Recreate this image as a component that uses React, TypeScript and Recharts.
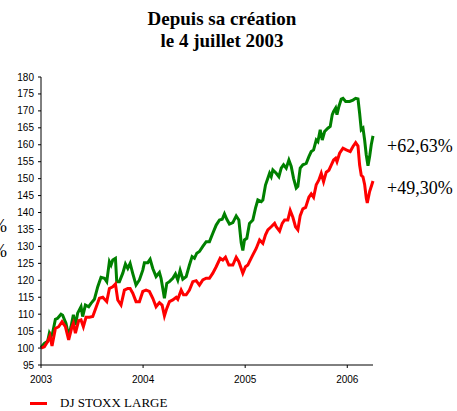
import { LineChart, Line, XAxis, YAxis, Legend } from 'recharts';

// time in years since the start (4 July 2003)
const greenT = [
  0, 0.033, 0.065, 0.082, 0.098, 0.114, 0.141, 0.163, 0.196, 0.212, 0.245, 0.271, 0.294, 0.317,
  0.337, 0.359, 0.392, 0.408, 0.435, 0.467, 0.49, 0.523, 0.556, 0.588, 0.621, 0.644, 0.67, 0.686,
  0.703, 0.729, 0.742, 0.768, 0.801, 0.827, 0.85, 0.873, 0.899, 0.931, 0.964, 0.997, 1.013, 1.046,
  1.069, 1.095, 1.127, 1.16, 1.176, 1.209, 1.232, 1.258, 1.291, 1.317, 1.34, 1.363, 1.389, 1.422,
  1.454, 1.48, 1.503, 1.526, 1.552, 1.585, 1.618, 1.65, 1.683, 1.716, 1.748, 1.775, 1.797, 1.82,
  1.846, 1.879, 1.912, 1.938, 1.961, 1.977, 1.993, 2.016, 2.042, 2.075, 2.101, 2.124, 2.157, 2.173,
  2.199, 2.222, 2.239, 2.255, 2.271, 2.304, 2.33, 2.353, 2.376, 2.402, 2.428, 2.451, 2.474, 2.5,
  2.516, 2.539, 2.565, 2.598, 2.624, 2.647, 2.67, 2.696, 2.712, 2.735, 2.755, 2.778, 2.81, 2.833,
  2.853, 2.866, 2.886, 2.899, 2.918, 2.941, 2.958, 2.984, 3.023, 3.056, 3.082, 3.105, 3.121, 3.137,
  3.154, 3.17, 3.186, 3.203, 3.219, 3.235, 3.252,
];
const greenValues = [
  100.2, 101.4, 102, 104.4, 103.4, 104.5, 108.5, 108.8, 110, 109.7, 107.3, 103.4, 106.3, 109.8,
  106.8, 110.3, 112.2, 109.3, 112.7, 112.2, 113.2, 114.4, 118.1, 120.9, 120.6, 119.6, 125.5, 124.5,
  126, 126.5, 119.6, 119.6, 122.1, 124.8, 123.5, 125, 122, 118.6, 120.1, 123, 125.2, 125.2,
  126.2, 123.5, 121.1, 122.3, 120.6, 114.7, 119.1, 119.6, 120.6, 121.9, 120.1, 122.9, 120.3, 121.1,
  124.5, 127, 126.5, 128, 128.5, 130, 131.4, 131.4, 133.9, 136.3, 137.8, 138, 139.6, 138,
  136.6, 137, 139, 137.8, 131.1, 128.8, 131.9, 132.4, 136.8, 137.8, 141.3, 143.7, 143.2, 143.7,
  148.1, 150.1, 151.6, 150.6, 152.6, 151.6, 150.6, 153.1, 154.1, 153.1, 155.5, 153.6, 150.1, 147.2,
  147.7, 153.1, 154.1, 154.5, 156.5, 158, 158.5, 161.4, 160.9, 164.4, 161.4, 163.9, 164.9, 165.4,
  168.9, 169.8, 170.8, 168.9, 171.3, 173.5, 173.7, 172.8, 172.8, 173.2, 173.7, 173.5, 169.3, 164.4,
  164.9, 161.4, 157, 153.8, 156.5, 160, 162.63,
];

const redT = [
  0, 0.033, 0.065, 0.088, 0.108, 0.141, 0.173, 0.206, 0.239, 0.271, 0.304, 0.317, 0.337, 0.369,
  0.392, 0.415, 0.441, 0.474, 0.507, 0.539, 0.572, 0.605, 0.644, 0.67, 0.703, 0.729, 0.752, 0.784,
  0.817, 0.85, 0.873, 0.899, 0.931, 0.964, 0.997, 1.029, 1.062, 1.095, 1.127, 1.16, 1.186, 1.209,
  1.232, 1.258, 1.291, 1.324, 1.34, 1.373, 1.396, 1.422, 1.454, 1.487, 1.52, 1.552, 1.585, 1.618,
  1.65, 1.683, 1.716, 1.755, 1.781, 1.807, 1.84, 1.879, 1.912, 1.938, 1.977, 2.003, 2.026, 2.042,
  2.075, 2.108, 2.141, 2.173, 2.199, 2.222, 2.255, 2.288, 2.304, 2.337, 2.363, 2.386, 2.418, 2.441,
  2.467, 2.493, 2.516, 2.539, 2.565, 2.592, 2.624, 2.647, 2.67, 2.696, 2.722, 2.745, 2.768, 2.794,
  2.82, 2.843, 2.866, 2.886, 2.899, 2.925, 2.958, 2.99, 3.029, 3.056, 3.082, 3.105, 3.121, 3.137,
  3.154, 3.17, 3.186, 3.196, 3.219, 3.235, 3.252,
];
const redValues = [
  100, 100.4, 101.9, 103.6, 100.6, 105.8, 106.3, 107.8, 106.3, 102.4, 106.3, 107.3, 104.4, 108.1,
  108.3, 106.3, 109.1, 109.1, 109.3, 112, 114.7, 115, 113.7, 117.6, 118.1, 118.9, 114.2, 112.7,
  117.1, 117.6, 117.6, 116.2, 113.7, 113.7, 116.7, 117.1, 116.7, 114.7, 112.2, 113.4, 112.7, 109.5,
  111.7, 113.7, 114.2, 115, 114.4, 117.1, 115.7, 115.7, 117.1, 119.6, 119.9, 118.6, 120.1, 120.6,
  120.6, 122.1, 124, 126.5, 126, 126.8, 124.5, 124.5, 126.8, 125.5, 122.1, 124, 124.5, 125.5,
  127.5, 129.4, 131.9, 130.9, 133.4, 134.9, 135.8, 136.8, 135.8, 134.5, 136.8, 137.8, 137.8, 140.6,
  138.6, 135.8, 134.9, 139.1, 141.1, 141.5, 144.5, 145.5, 144.5, 148.2, 149.6, 151.6, 149.1, 151.9,
  152.5, 154, 155.5, 156, 155, 157.5, 159, 158.5, 158, 159.5, 160.6, 159.6, 154, 151,
  150.5, 148.3, 144.3, 142.8, 146.2, 147.7, 149.3,
];

const yearTicks = [0, 1, 2, 3];
const yearLabels = ['2003', '2004', '2005', '2006'];
const yTicks = [95, 100, 105, 110, 115, 120, 125, 130, 135, 140, 145, 150, 155, 160, 165, 170, 175, 180];

const greenData = greenT.map((t, i) => ({ t, v: greenValues[i] }));
const redData = redT.map((t, i) => ({ t, v: redValues[i] }));

const tickStyle = { fontFamily: '"Liberation Sans", Arial, sans-serif', fontSize: 10, fill: '#000' };
const serif = '"Liberation Serif", "Times New Roman", serif';

function LegendBox() {
  return (
    <div style={{ display: 'flex', alignItems: 'center', fontFamily: serif, fontSize: 13, color: '#000' }}>
      <span style={{ display: 'inline-block', width: 17, height: 3, background: '#ff0000', marginRight: 13 }} />
      DJ STOXX LARGE
    </div>
  );
}

export default function App() {
  return (
    <div style={{ position: 'absolute', left: 0, top: 0, width: 457, height: 411, background: '#fff' }}>
      <LineChart width={457} height={411} data={greenData} margin={{ top: 77, right: 84, bottom: 0, left: 0 }}>
        <XAxis
          dataKey="t"
          type="number"
          domain={[0, 3.25]}
          ticks={yearTicks}
          tickFormatter={(t: number) => yearLabels[t]}
          tick={tickStyle}
          axisLine={{ stroke: '#000' }}
          tickLine={{ stroke: '#000' }}
          tickSize={3}
          tickMargin={8}
          height={30}
        />
        <YAxis
          type="number"
          domain={[95, 180]}
          ticks={yTicks}
          interval={0}
          tick={tickStyle}
          axisLine={{ stroke: '#000' }}
          tickLine={{ stroke: '#000' }}
          tickSize={3}
          tickMargin={4}
          width={41}
        />
        <Legend
          content={() => <LegendBox />}
          wrapperStyle={{ left: 30, top: 395, width: 200 }}
        />
        <Line
          data={greenData}
          dataKey="v"
          type="linear"
          stroke="#008000"
          strokeWidth={3}
          dot={false}
          legendType="none"
          isAnimationActive={false}
        />
        <Line
          data={redData}
          dataKey="v"
          type="linear"
          stroke="#ff0000"
          strokeWidth={3}
          dot={false}
          isAnimationActive={false}
        />
      </LineChart>
      <svg
        width={457}
        height={411}
        style={{ position: 'absolute', left: 0, top: 0, pointerEvents: 'none', overflow: 'visible' }}
      >
        <text x={222} y={25} textAnchor="middle" fontFamily={serif} fontSize={19} fontWeight="bold">
          Depuis sa création
        </text>
        <text x={222} y={47} textAnchor="middle" fontFamily={serif} fontSize={19} fontWeight="bold">
          le 4 juillet 2003
        </text>
        <text x={387} y={152} fontFamily={serif} fontSize={18}>
          +62,63%
        </text>
        <text x={387} y={194} fontFamily={serif} fontSize={18}>
          +49,30%
        </text>
        <text x={7} y={232} textAnchor="end" fontFamily={serif} fontSize={18}>
          %
        </text>
        <text x={7} y={257} textAnchor="end" fontFamily={serif} fontSize={18}>
          %
        </text>
      </svg>
    </div>
  );
}
